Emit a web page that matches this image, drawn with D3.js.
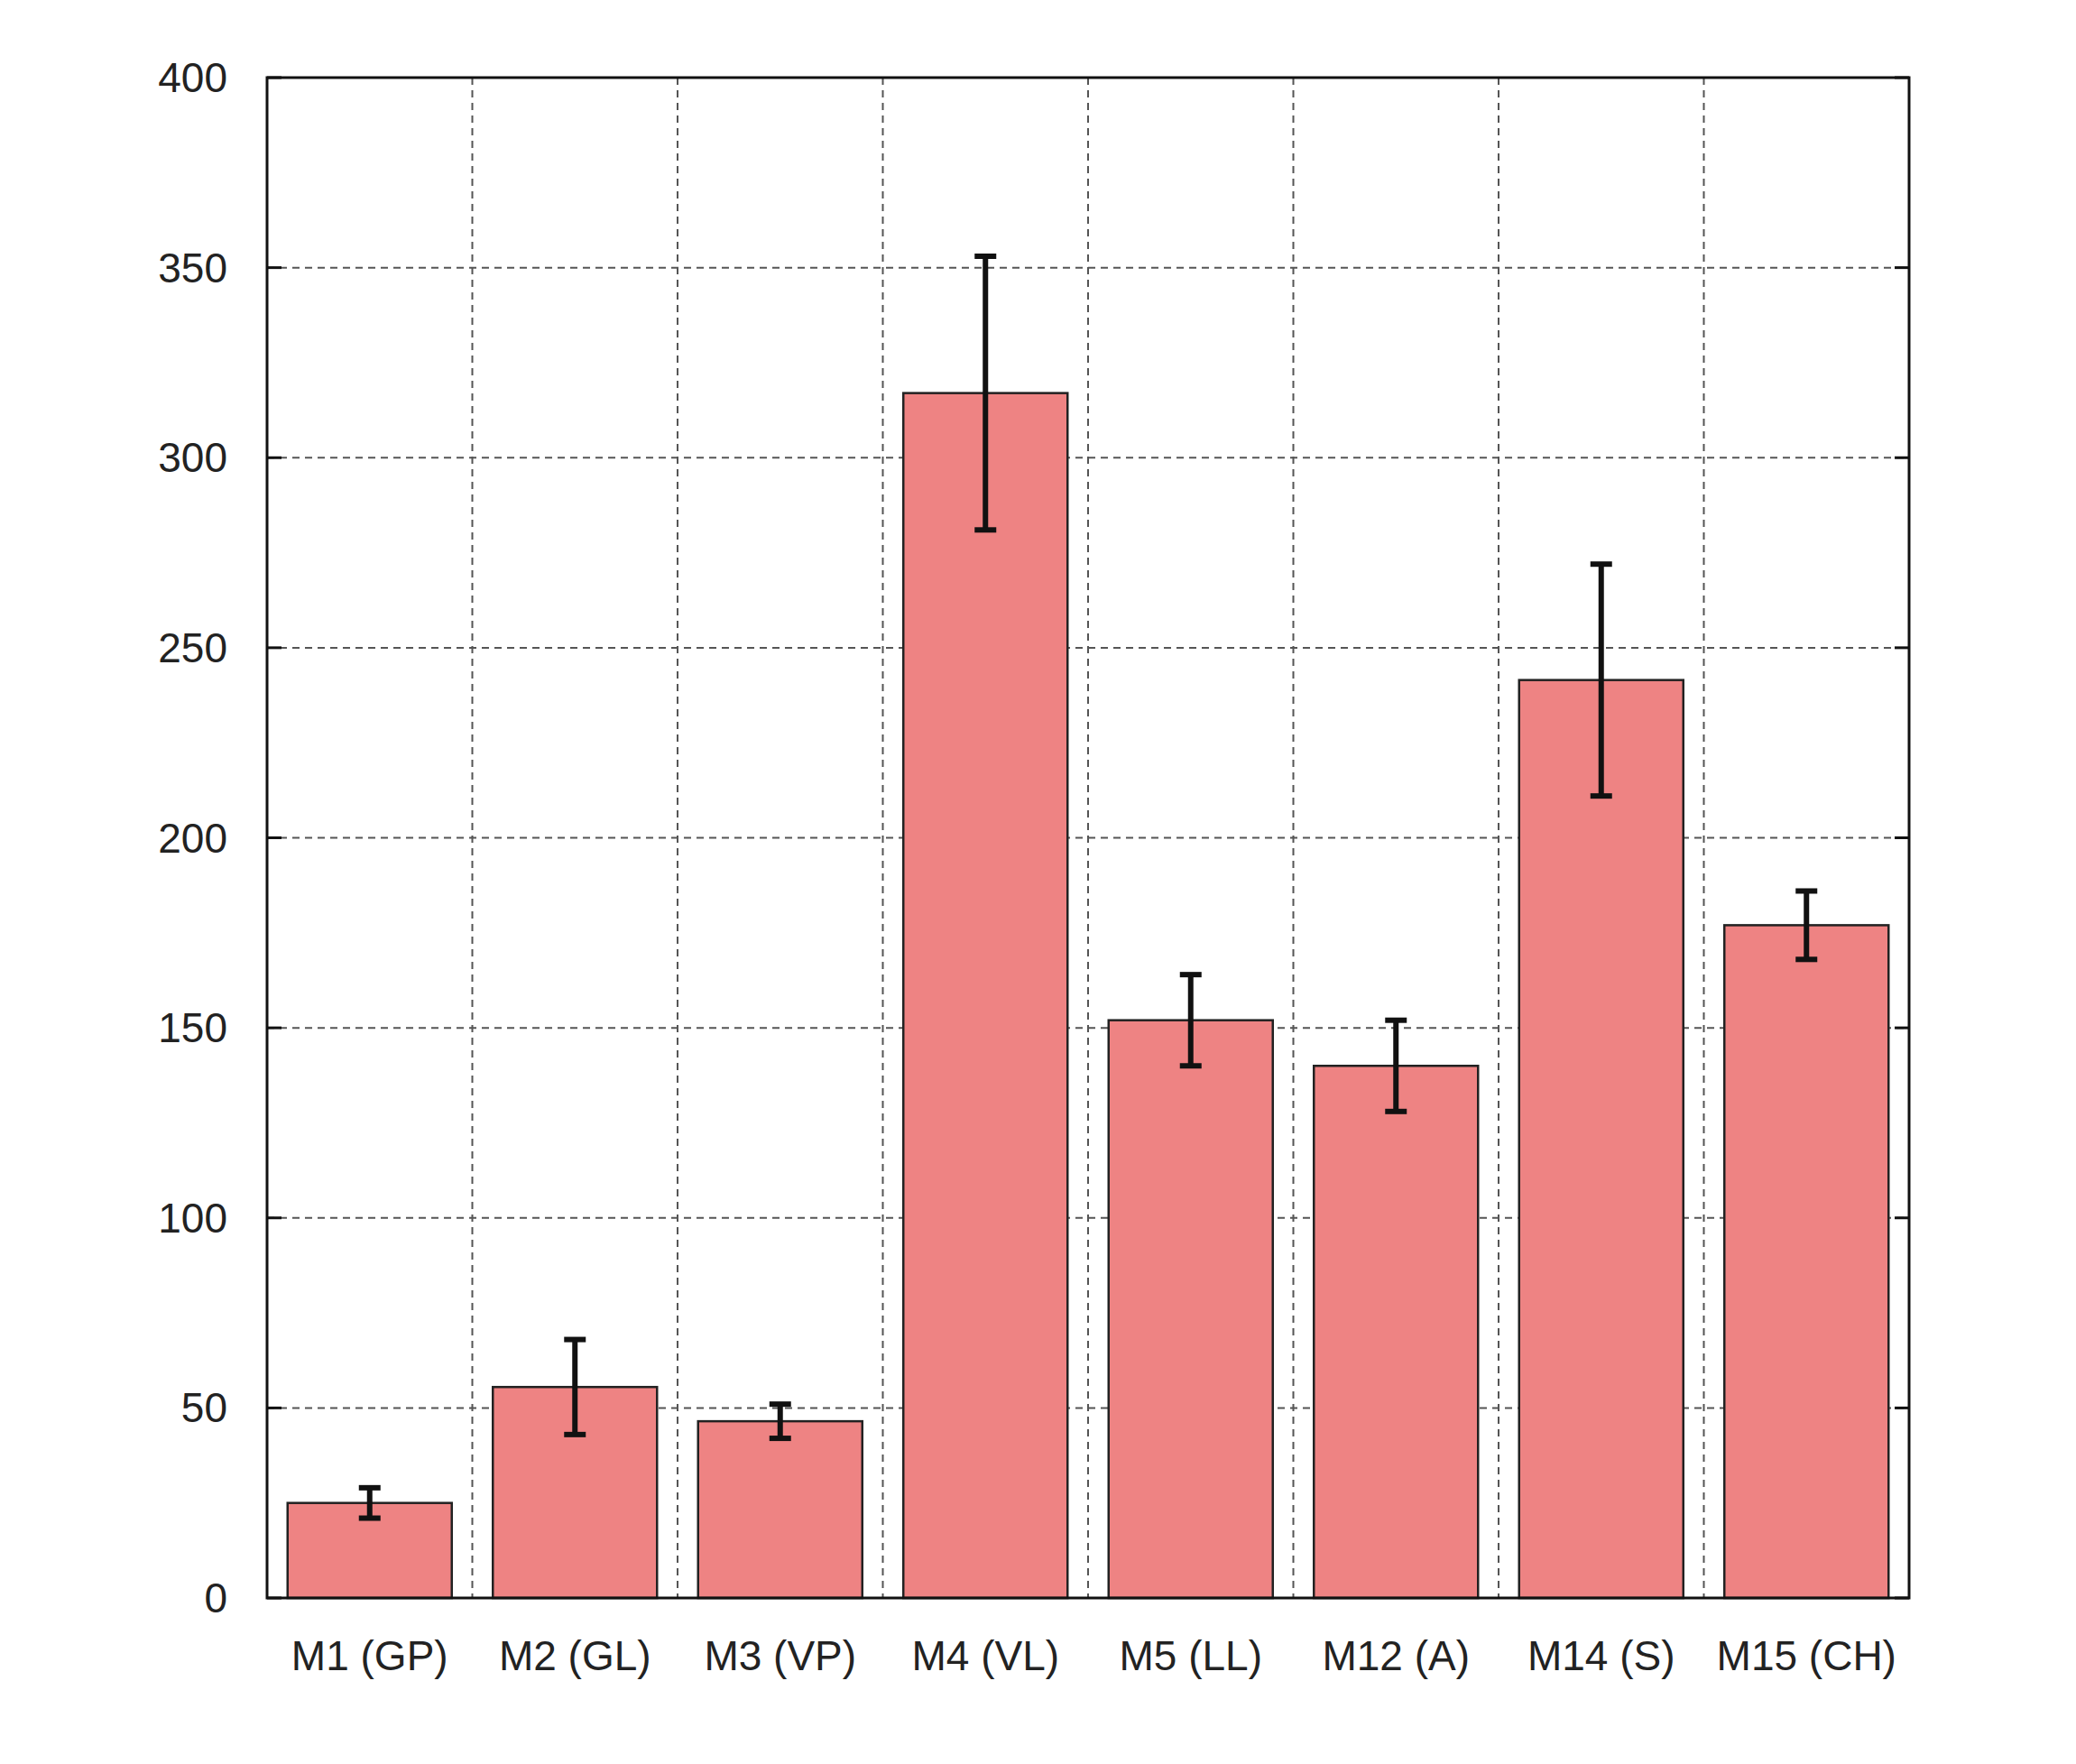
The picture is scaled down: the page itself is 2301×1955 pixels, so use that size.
<!DOCTYPE html>
<html><head><meta charset="utf-8">
<script src="https://cdn.jsdelivr.net/npm/d3@7"></script>
<style>body{margin:0;background:#fff}</style>
</head><body><div id="chart"></div>
<script>
const categories = ["M1 (GP)", "M2 (GL)", "M3 (VP)", "M4 (VL)", "M5 (LL)", "M12 (A)", "M14 (S)", "M15 (CH)"];
const values = [25, 55.5, 46.5, 317, 152, 140, 241.5, 177];
const errLow = [21, 43, 42, 281, 140, 128, 211, 168];
const errHigh = [29, 68, 51, 353, 164, 152, 272, 186];
const yTicks = [0, 50, 100, 150, 200, 250, 300, 350, 400];

const width = 2301, height = 1955;
const margin = { top: 86, right: 185, bottom: 184, left: 296 };

const svg = d3.select("#chart").append("svg")
  .attr("width", width).attr("height", height)
  .style("font-family", "Arial, 'Liberation Sans', sans-serif");

const x = d3.scaleBand().domain(categories)
  .range([margin.left, width - margin.right]).paddingInner(0.2).paddingOuter(0.1);
const band = d3.scaleBand().domain(categories).range([margin.left, width - margin.right]);
const y = d3.scaleLinear().domain([0, 400]).range([height - margin.bottom, margin.top]);

// grid
svg.selectAll(".hgrid").data(yTicks.slice(1, -1)).enter().append("line")
  .attr("x1", margin.left).attr("x2", width - margin.right)
  .attr("y1", d => y(d)).attr("y2", d => y(d))
  .attr("stroke", "#555").attr("stroke-width", 2).attr("stroke-dasharray", "8,6");
svg.selectAll(".vgrid").data(categories.slice(1)).enter().append("line")
  .attr("x1", d => band(d)).attr("x2", d => band(d))
  .attr("y1", margin.top).attr("y2", height - margin.bottom)
  .attr("stroke", "#555").attr("stroke-width", 2).attr("stroke-dasharray", "8,6");

// bars
svg.selectAll(".bar").data(categories).enter().append("rect")
  .attr("x", d => x(d)).attr("width", x.bandwidth())
  .attr("y", (d, i) => y(values[i])).attr("height", (d, i) => y(0) - y(values[i]))
  .attr("fill", "#ee8383").attr("stroke", "#222").attr("stroke-width", 2.5);

// error bars
const cx = d => x(d) + x.bandwidth() / 2;
const eb = svg.selectAll(".err").data(categories).enter().append("g")
  .attr("stroke", "#111").attr("stroke-width", 6);
eb.append("line").attr("x1", cx).attr("x2", cx)
  .attr("y1", (d, i) => y(errLow[i])).attr("y2", (d, i) => y(errHigh[i]));
eb.append("line").attr("x1", d => cx(d) - 12).attr("x2", d => cx(d) + 12)
  .attr("y1", (d, i) => y(errLow[i])).attr("y2", (d, i) => y(errLow[i]));
eb.append("line").attr("x1", d => cx(d) - 12).attr("x2", d => cx(d) + 12)
  .attr("y1", (d, i) => y(errHigh[i])).attr("y2", (d, i) => y(errHigh[i]));

// frame
svg.append("rect").attr("x", margin.left).attr("y", margin.top)
  .attr("width", width - margin.left - margin.right)
  .attr("height", height - margin.top - margin.bottom)
  .attr("fill", "none").attr("stroke", "#111").attr("stroke-width", 3);

// inward ticks
svg.selectAll(".tl").data(yTicks).enter().append("line")
  .attr("x1", margin.left).attr("x2", margin.left + 16)
  .attr("y1", d => y(d)).attr("y2", d => y(d)).attr("stroke", "#111").attr("stroke-width", 3);
svg.selectAll(".tr").data(yTicks).enter().append("line")
  .attr("x1", width - margin.right - 16).attr("x2", width - margin.right)
  .attr("y1", d => y(d)).attr("y2", d => y(d)).attr("stroke", "#111").attr("stroke-width", 3);

// axis labels
svg.selectAll(".yl").data(yTicks).enter().append("text")
  .attr("x", margin.left - 44).attr("y", d => y(d)).attr("dy", "0.35em")
  .attr("text-anchor", "end").attr("font-size", 46).attr("fill", "#222").text(d => d);
svg.selectAll(".xl").data(categories).enter().append("text")
  .attr("x", cx).attr("y", height - margin.bottom + 80)
  .attr("text-anchor", "middle").attr("font-size", 46).attr("fill", "#222").text(d => d);
</script></body></html>
